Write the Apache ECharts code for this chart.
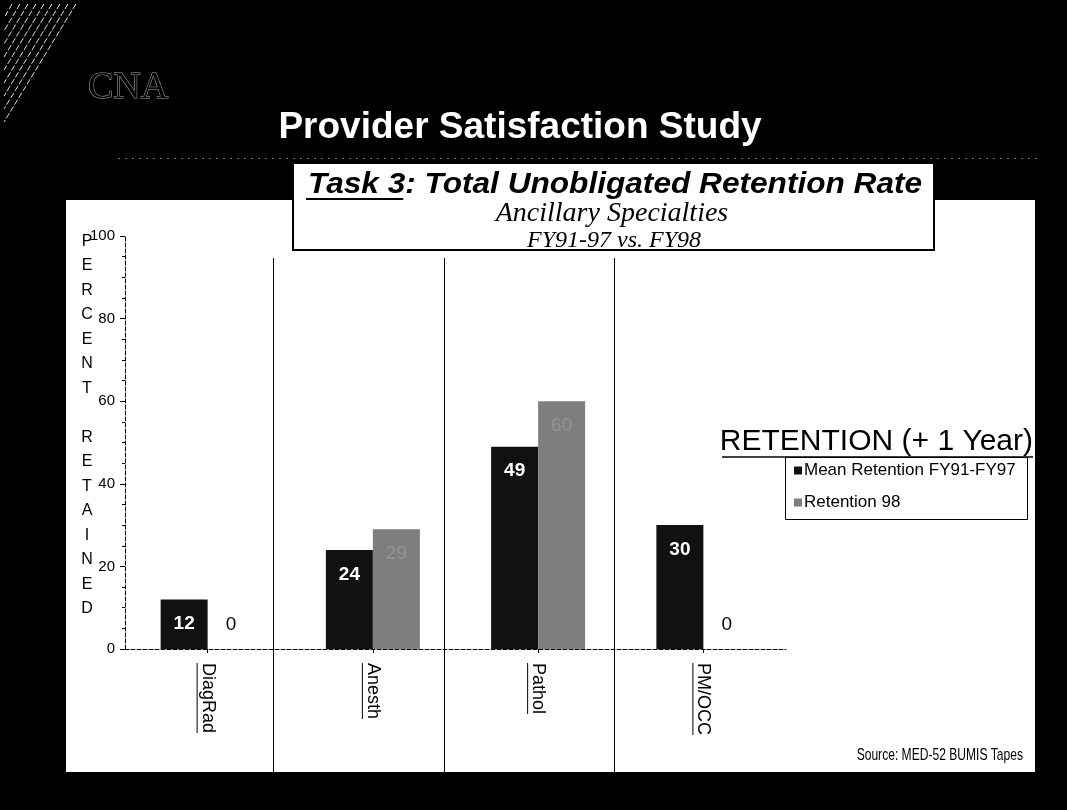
<!DOCTYPE html>
<html>
<head>
<meta charset="utf-8">
<script src="https://cdn.jsdelivr.net/npm/echarts@6/dist/echarts.min.js"></script>
<style>
  html, body { margin: 0; padding: 0; background: #000; }
  #main { width: 1067px; height: 810px; }
</style>
</head>
<body>
<div id="main"></div>
<script>
// 数据
var categories = ['DiagRad', 'Anesth', 'Pathol', 'PM/OCC']
var meanRetention = [12, 24, 49, 30]
var retention98 = [0, 29, 60, 0]
var seriesNames = ['Mean Retention FY91-FY97', 'Retention 98']
var yTicks = [0, 20, 40, 60, 80, 100]
var axisTitle = 'PERCENT RETAINED'

var sans = 'Liberation Sans, Arial, sans-serif'
var serif = 'Liberation Serif, Times New Roman, serif'

var myChart = echarts.init(document.getElementById('main'))

// stacked letters for the y axis title
var stacked = axisTitle.split('').join('\n')

// text measuring, for the underlines
var ctx = document.createElement('canvas').getContext('2d')
function textWidth(str, font) {
  ctx.font = font
  return ctx.measureText(str).width
}

// hatch lines top-left
var hatch = []
for (var i = 0; i < 9; i++) {
  hatch.push({
    type: 'line',
    z: -5,
    shape: { x1: 76 - i * 8, y1: 4, x2: 4, y2: 122 - i * 13 },
    style: { stroke: '#ddd', lineWidth: 1, lineDash: [6, 2] }
  })
}

// task title is drawn a bit wide, like the slide
var taskFont = 'italic bold 29px ' + sans
var taskStretch = 1.09
var taskUnderline = textWidth('Task 3', taskFont) * taskStretch

var options = {
  backgroundColor: '#000',
  animation: false,
  grid: { left: 125, right: 281, top: 236, bottom: 161, containLabel: false },
  legend: {
    orient: 'vertical',
    left: 789,
    top: 457,
    itemGap: 15,
    itemWidth: 8,
    itemHeight: 8,
    icon: 'rect',
    textStyle: { fontFamily: sans, fontSize: 17, color: '#000', padding: [0, 0, 0, -3] },
    data: seriesNames
  },
  xAxis: {
    type: 'category',
    data: categories,
    axisLine: { lineStyle: { color: '#000', type: 'dashed', width: 1 } },
    axisTick: { show: true, alignWithLabel: true, length: 4, lineStyle: { color: '#000' } },
    axisLabel: {
      rotate: -90,
      margin: 14,
      fontFamily: sans,
      fontSize: 18,
      color: '#000'
    },
    splitLine: { show: false }
  },
  yAxis: {
    type: 'value',
    min: 0,
    max: 100,
    interval: 20,
    axisLine: { show: true, lineStyle: { color: '#000', type: 'dashed', width: 1 } },
    axisTick: { show: true, length: 5, lineStyle: { color: '#000' } },
    minorTick: { show: true, splitNumber: 4, length: 3, lineStyle: { color: '#000' } },
    axisLabel: {
      margin: 10,
      fontFamily: sans,
      fontSize: 15,
      color: '#000',
      formatter: function(v) { return yTicks.indexOf(v) >= 0 ? String(v) : '' }
    },
    splitLine: { show: false }
  },
  series: [
    {
      name: seriesNames[0],
      type: 'bar',
      barWidth: 47,
      barGap: '0%',
      itemStyle: { color: '#111' },
      label: {
        show: true,
        position: 'insideTop',
        distance: 15,
        color: '#fff',
        fontFamily: sans,
        fontWeight: 'bold',
        fontSize: 19
      },
      data: meanRetention
    },
    {
      name: seriesNames[1],
      type: 'bar',
      barWidth: 47,
      itemStyle: { color: '#7e7e7e' },
      label: {
        show: true,
        position: 'insideTop',
        distance: 15,
        color: '#939393',
        fontFamily: sans,
        fontSize: 19
      },
      data: retention98.map(function(v) {
        if (v === 0) {
          return { value: v, label: { position: 'top', distance: 15, color: '#000' } }
        }
        return v
      })
    }
  ],
  graphic: hatch.concat([
    // white panel
    { type: 'rect', z: -10, shape: { x: 66, y: 200, width: 969, height: 572 }, style: { fill: '#fff' } },
    // dotted rule under main title
    { type: 'line', z: -5, shape: { x1: 118, y1: 158.5, x2: 1040, y2: 158.5 }, style: { stroke: '#777', lineWidth: 1, lineDash: [2, 5] } },
    // separators
    { type: 'line', z: -5, shape: { x1: 273.5, y1: 258, x2: 273.5, y2: 772 }, style: { stroke: '#000', lineWidth: 1 } },
    { type: 'line', z: -5, shape: { x1: 444.5, y1: 258, x2: 444.5, y2: 772 }, style: { stroke: '#000', lineWidth: 1 } },
    { type: 'line', z: -5, shape: { x1: 614.5, y1: 258, x2: 614.5, y2: 772 }, style: { stroke: '#000', lineWidth: 1 } },
    // CNA logo
    { type: 'text', z: 5, style: { x: 88, y: 88, text: 'CNA', verticalAlign: 'middle', fontFamily: serif, fontSize: 38, fill: '#000', stroke: '#aaa', lineWidth: 1 } },
    // main title
    { type: 'text', z: 5, style: { x: 520, y: 128, text: 'Provider Satisfaction Study', align: 'center', verticalAlign: 'middle', fontFamily: sans, fontWeight: 'bold', fontSize: 37, fill: '#fff' } },
    // title box
    { type: 'rect', z: 4, shape: { x: 293, y: 163, width: 641, height: 87 }, style: { fill: '#fff', stroke: '#000', lineWidth: 2 } },
    { type: 'text', z: 5, x: 308, y: 185, scaleX: taskStretch, style: { x: 0, y: 0, text: 'Task 3: Total Unobligated Retention Rate', verticalAlign: 'middle', font: taskFont, fill: '#000' } },
    { type: 'line', z: 5, shape: { x1: 306, y1: 199, x2: 306 + taskUnderline, y2: 199 }, style: { stroke: '#000', lineWidth: 2 } },
    { type: 'text', z: 5, style: { x: 612, y: 214, text: 'Ancillary Specialties', align: 'center', verticalAlign: 'middle', fontFamily: serif, fontStyle: 'italic', fontSize: 28, fill: '#000' } },
    { type: 'text', z: 5, style: { x: 614, y: 241, text: 'FY91-97 vs. FY98', align: 'center', verticalAlign: 'middle', fontFamily: serif, fontStyle: 'italic', fontSize: 24, fill: '#000' } },
    // y axis title, stacked letters
    { type: 'text', z: 5, style: { x: 87, y: 229, text: stacked, align: 'center', fontFamily: sans, fontSize: 16, lineHeight: 24.5, fill: '#000' } },
    // legend title + box
    { type: 'text', z: 5, style: { x: 1033, y: 442, text: 'RETENTION (+ 1 Year)', align: 'right', verticalAlign: 'middle', fontFamily: sans, fontSize: 30, fill: '#000' } },
    { type: 'line', z: 5, shape: { x1: 722, y1: 457, x2: 1033, y2: 457 }, style: { stroke: '#000', lineWidth: 1.5 } },
    { type: 'rect', z: -4, shape: { x: 785.5, y: 457.5, width: 242, height: 62 }, style: { fill: '#fff', stroke: '#000', lineWidth: 1 } },
    // source (narrow look)
    { type: 'text', z: 5, x: 1023, y: 755, scaleX: 0.71, style: { x: 0, y: 0, text: 'Source: MED-52 BUMIS Tapes', align: 'right', verticalAlign: 'middle', fontFamily: sans, fontSize: 17, fill: '#000' } }
  ])
}

myChart.setOption(options)

// underline the category labels (rotated text, so the line is on the left side)
var underlines = categories.map(function(c) {
  var px = myChart.convertToPixel({ xAxisIndex: 0 }, c)
  var py = myChart.convertToPixel({ yAxisIndex: 0 }, 0)
  var w = textWidth(c, '18px ' + sans)
  return {
    type: 'line',
    z: 5,
    shape: { x1: px - 10.5, y1: py + 14, x2: px - 10.5, y2: py + 14 + w },
    style: { stroke: '#000', lineWidth: 1 }
  }
})
myChart.setOption({ graphic: options.graphic.concat(underlines) })
</script>
</body>
</html>
